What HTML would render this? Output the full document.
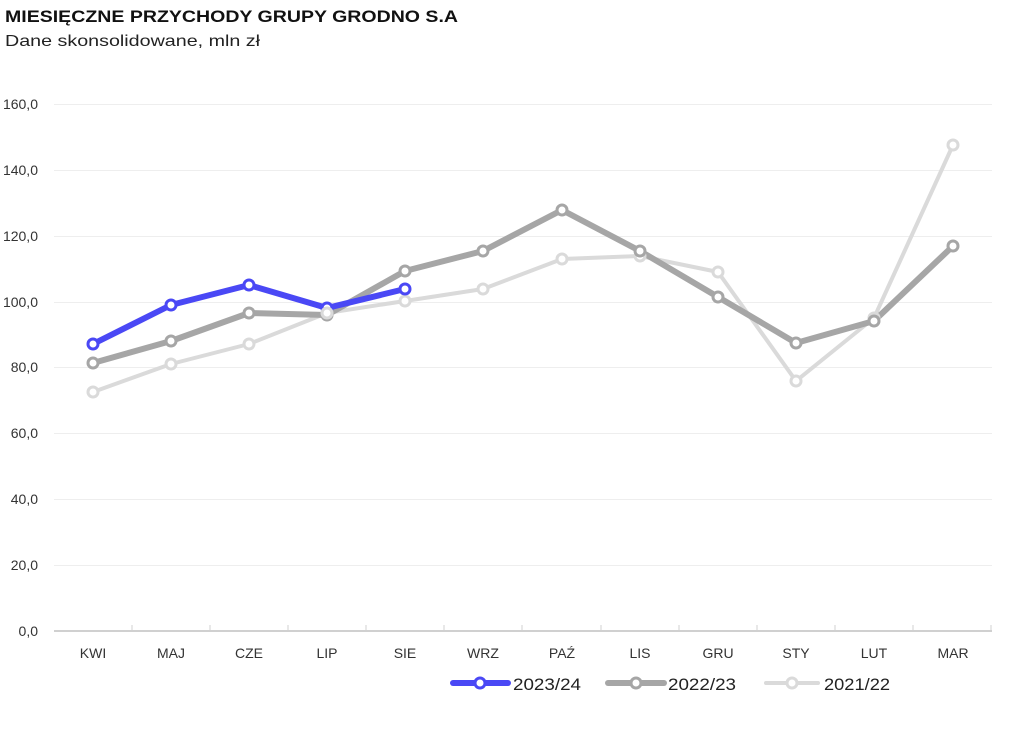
<!DOCTYPE html>
<html><head><meta charset="utf-8"><style>
body{margin:0;background:#fff;}
svg{display:block;font-family:"Liberation Sans",sans-serif;}
</style></head><body>
<svg width="1032" height="731" viewBox="0 0 1032 731" xmlns="http://www.w3.org/2000/svg">
<text x="5" y="22" font-size="17" font-weight="bold" fill="#111" textLength="453" lengthAdjust="spacingAndGlyphs">MIESIĘCZNE PRZYCHODY GRUPY GRODNO S.A</text>
<text x="5" y="46" font-size="16" fill="#222" textLength="255" lengthAdjust="spacingAndGlyphs">Dane skonsolidowane, mln zł</text>
<g stroke="#eeeeee" stroke-width="1">
<line x1="54" x2="992" y1="104.5" y2="104.5"/><line x1="54" x2="992" y1="170.5" y2="170.5"/>
<line x1="54" x2="992" y1="236.5" y2="236.5"/><line x1="54" x2="992" y1="302.5" y2="302.5"/>
<line x1="54" x2="992" y1="367.5" y2="367.5"/><line x1="54" x2="992" y1="433.5" y2="433.5"/>
<line x1="54" x2="992" y1="499.5" y2="499.5"/><line x1="54" x2="992" y1="565.5" y2="565.5"/>
</g>
<line x1="54" x2="992" y1="631" y2="631" stroke="#d0d0d0" stroke-width="2"/>
<g stroke="#d0d0d0" stroke-width="1">
<line x1="132" x2="132" y1="625" y2="631"/><line x1="210" x2="210" y1="625" y2="631"/><line x1="288" x2="288" y1="625" y2="631"/><line x1="366" x2="366" y1="625" y2="631"/><line x1="444" x2="444" y1="625" y2="631"/><line x1="522" x2="522" y1="625" y2="631"/><line x1="601" x2="601" y1="625" y2="631"/><line x1="679" x2="679" y1="625" y2="631"/><line x1="757" x2="757" y1="625" y2="631"/><line x1="835" x2="835" y1="625" y2="631"/><line x1="913" x2="913" y1="625" y2="631"/><line x1="991" x2="991" y1="625" y2="631"/>
</g>
<g font-size="14" fill="#333" text-anchor="end">
<text x="38" y="109">160,0</text><text x="38" y="175">140,0</text><text x="38" y="241">120,0</text><text x="38" y="307">100,0</text><text x="38" y="372">80,0</text><text x="38" y="438">60,0</text><text x="38" y="504">40,0</text><text x="38" y="570">20,0</text><text x="38" y="636">0,0</text>
</g>
<g font-size="14" fill="#333" text-anchor="middle">
<text x="93" y="658">KWI</text><text x="171" y="658">MAJ</text><text x="249" y="658">CZE</text><text x="327" y="658">LIP</text><text x="405" y="658">SIE</text><text x="483" y="658">WRZ</text><text x="562" y="658">PAŹ</text><text x="640" y="658">LIS</text><text x="718" y="658">GRU</text><text x="796" y="658">STY</text><text x="874" y="658">LUT</text><text x="953" y="658">MAR</text>
</g>
<g fill="none" stroke-linejoin="round" stroke-linecap="round">
<polyline stroke="#dadada" stroke-width="4" points="93,392 171,364 249,344 327,313 405,301 483,289 562,259 640,256 718,272 796,381 874,318 953,145"/>
<polyline stroke="#a6a6a6" stroke-width="6" points="93,363 171,341 249,313 327,315 405,271 483,251 562,210 640,251 718,297 796,343 874,321 953,246"/>
<polyline stroke="#4a48f5" stroke-width="6" points="93,344 171,305 249,285 327,308 405,289"/>
</g>
<g fill="#fff" stroke="#dadada" stroke-width="3">
<circle cx="93" cy="392" r="5"/><circle cx="171" cy="364" r="5"/><circle cx="249" cy="344" r="5"/><circle cx="405" cy="301" r="5"/><circle cx="483" cy="289" r="5"/><circle cx="562" cy="259" r="5"/><circle cx="640" cy="256" r="5"/><circle cx="718" cy="272" r="5"/><circle cx="796" cy="381" r="5"/><circle cx="874" cy="318" r="5"/><circle cx="953" cy="145" r="5"/>
</g>
<g fill="#fff" stroke="#a6a6a6" stroke-width="3">
<circle cx="93" cy="363" r="5"/><circle cx="171" cy="341" r="5"/><circle cx="249" cy="313" r="5"/><circle cx="327" cy="315" r="5"/><circle cx="405" cy="271" r="5"/><circle cx="483" cy="251" r="5"/><circle cx="562" cy="210" r="5"/><circle cx="640" cy="251" r="5"/><circle cx="718" cy="297" r="5"/><circle cx="796" cy="343" r="5"/><circle cx="874" cy="321" r="5"/><circle cx="953" cy="246" r="5"/>
</g>
<g fill="#fff" stroke="#4a48f5" stroke-width="3">
<circle cx="93" cy="344" r="5"/><circle cx="171" cy="305" r="5"/><circle cx="249" cy="285" r="5"/><circle cx="327" cy="308" r="5"/><circle cx="405" cy="289" r="5"/>
</g>
<circle cx="327" cy="313" r="5" fill="#fff" stroke="#dadada" stroke-width="3"/>
<g stroke-linecap="round">
<line x1="453" x2="508" y1="683" y2="683" stroke="#4a48f5" stroke-width="6"/>
<circle cx="480" cy="683" r="5" fill="#fff" stroke="#4a48f5" stroke-width="3"/>
<line x1="608" x2="664" y1="683" y2="683" stroke="#a6a6a6" stroke-width="6"/>
<circle cx="636" cy="683" r="5" fill="#fff" stroke="#a6a6a6" stroke-width="3"/>
<line x1="766" x2="818" y1="683" y2="683" stroke="#dadada" stroke-width="4"/>
<circle cx="792" cy="683" r="5" fill="#fff" stroke="#dadada" stroke-width="3"/>
</g>
<g font-size="17" fill="#222">
<text x="513" y="690" textLength="68" lengthAdjust="spacingAndGlyphs">2023/24</text><text x="668" y="690" textLength="68" lengthAdjust="spacingAndGlyphs">2022/23</text><text x="824" y="690" textLength="66" lengthAdjust="spacingAndGlyphs">2021/22</text>
</g>
</svg>
</body></html>
